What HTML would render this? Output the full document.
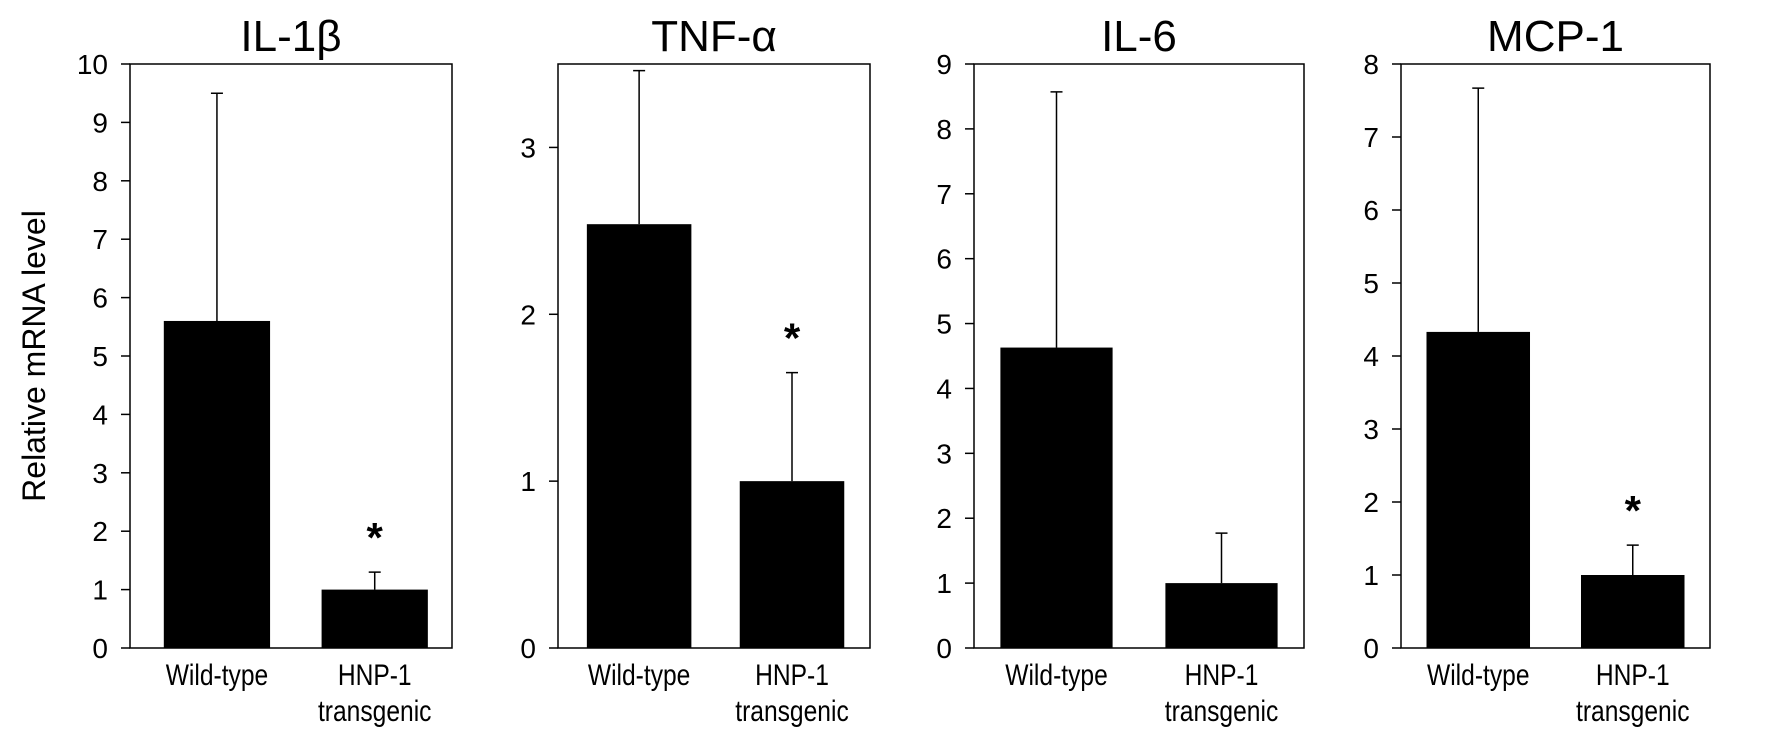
<!DOCTYPE html>
<html><head><meta charset="utf-8"><style>
html,body{margin:0;padding:0;background:#fff;}
svg{display:block;font-family:"Liberation Sans",Arial,sans-serif;}
</style></head><body>
<svg id="chart" width="1772" height="739" viewBox="0 0 1772 739" xmlns="http://www.w3.org/2000/svg">
<text x="0" y="0" transform="translate(45,356) rotate(-90)" text-anchor="middle" font-size="32">Relative mRNA level</text>
</svg>
<script>
const titles = ["IL-1β", "TNF-α", "IL-6", "MCP-1"];
const categories = ["Wild-type", "HNP-1 transgenic"];
const meanWT = [5.6, 2.54, 4.63, 4.33];
const meanTG = [1.0, 1.0, 1.0, 1.0];
const errWT = [3.9, 0.92, 3.94, 3.34];
const errTG = [0.3, 0.65, 0.77, 0.41];
const yMax = [10, 3.5, 9, 8];
const tickStep = [1, 1, 1, 1];
const significant = [true, true, false, true];

const NS = "http://www.w3.org/2000/svg";
const svgEl = document.getElementById('chart');
const panelsLeft = [130, 558, 974, 1401];
const panelsRight = [452, 870, 1304, 1710];
const bandFrac = [[0.27, 0.76], [0.26, 0.75], [0.25, 0.75], [0.25, 0.75]];
const barFrac = [0.33, 0.335, 0.34, 0.335];
const plotTop = 64, plotBottom = 648;
function mk(tag, attrs, parent) {
  const e = document.createElementNS(NS, tag);
  for (const k in attrs) e.setAttribute(k, attrs[k]);
  (parent || svgEl).appendChild(e);
  return e;
}
function condense(el) {
  const w = el.getComputedTextLength();
  el.setAttribute('textLength', (w * 0.82).toFixed(1));
  el.setAttribute('lengthAdjust', 'spacingAndGlyphs');
}
titles.forEach((t, i) => {
  const L = panelsLeft[i], R = panelsRight[i], W = R - L;
  const y = v => plotBottom - v / yMax[i] * (plotBottom - plotTop);
  const xBand = j => L + W * bandFrac[i][j];
  const bw = W * barFrac[i];
  const g = mk('g', {});
  
  
  const title = mk('text', {x: (L + R) / 2, y: 51, 'text-anchor': 'middle', 'font-size': 44}, g);
  title.textContent = t;
  
  
  const frame = mk('rect', {x: L, y: plotTop, width: W, height: plotBottom - plotTop, fill: 'none', stroke: '#000', 'stroke-width': 1.5}, g);
  
  
  for (let v = 0; v <= yMax[i] + 1e-9; v += tickStep[i]) {
    const tk = mk('line', {x1: L - 9, x2: L, y1: y(v), y2: y(v), stroke: '#000', 'stroke-width': 1.5}, g);
    
    
    const tl = mk('text', {x: L - 22, y: y(v) + 10, 'text-anchor': 'end', 'font-size': 28}, g);
    tl.textContent = String(v);
    
    
  }
  const means = [meanWT[i], meanTG[i]], errs = [errWT[i], errTG[i]];
  means.forEach((m, j) => {
    const cx = xBand(j);
    const b = mk('rect', {x: cx - bw / 2, y: y(m), width: bw, height: plotBottom - y(m), fill: '#000'}, g);
    
    
    const et = y(m + errs[j]);
    const el = mk('path', {d: `M${cx},${y(m)}V${et}M${cx - 6},${et}H${cx + 6}`, stroke: '#000', 'stroke-width': 1.5, fill: 'none'}, g);
    
    
  });
  if (significant[i]) {
    const st = mk('text', {x: xBand(1), y: y(meanTG[i] + errTG[i]) - 20, 'text-anchor': 'middle', 'font-size': 42, 'font-weight': 'bold'}, g);
    st.textContent = '*';
    
    
  }
  const c1 = mk('text', {x: xBand(0), y: 685, 'text-anchor': 'middle', 'font-size': 30}, g);
  c1.textContent = categories[0];
  
  
  condense(c1);
  const parts = categories[1].split(' ');
  parts.forEach((p, k) => {
    const c2 = mk('text', {x: xBand(1), y: 685 + k * 36, 'text-anchor': 'middle', 'font-size': 30}, g);
    c2.textContent = p;
    
    
    condense(c2);
  });
});
</script>
</body></html>
